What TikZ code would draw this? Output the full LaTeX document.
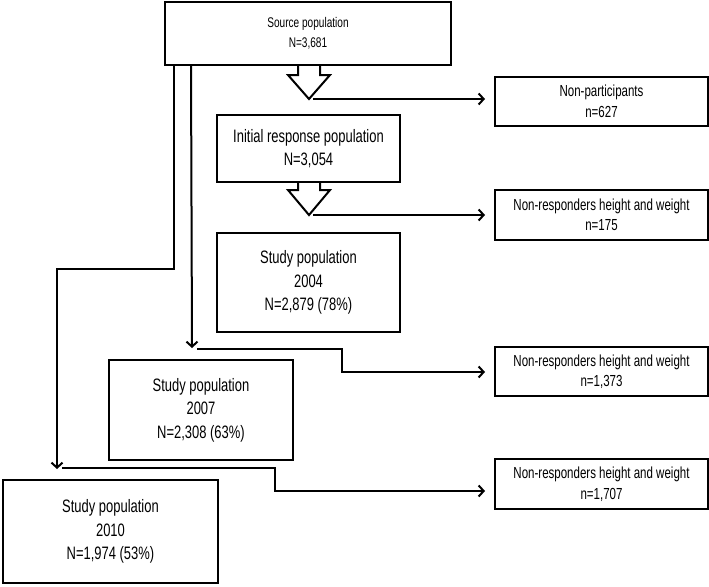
\documentclass[tikz,border=0pt]{standalone}
\usepackage{fontspec}
\setmainfont[FakeStretch=0.72]{Liberation Sans}
\usetikzlibrary{arrows.meta}
\begin{document}
\begin{tikzpicture}[x=1pt,y=-1pt,
  box/.style={draw,line width=2pt,align=center,inner sep=0pt},
  srcbox/.style={box,font=\fontsize{14}{20}\selectfont},
  smallbox/.style={box,font=\fontsize{16}{20.5}\selectfont},
  bigbox/.style={box,font=\fontsize{18}{23.5}\selectfont},
  conn/.style={line width=2pt,-{Straight Barb[length=5pt,width=11pt,line width=2pt]}},
  blockarrow/.style={draw,line width=2pt,line join=miter}]
\useasboundingbox (0,0) rectangle (709,586);
% boxes
\node[srcbox,minimum width=286pt,minimum height=63pt] (src) at (308,33.5) {Source population\\N=3,681};
\node[bigbox,minimum width=183pt,minimum height=67pt] (irp) at (308.5,148.5) {Initial response population\\N=3,054};
\node[bigbox,minimum width=183pt,minimum height=99pt] (s04) at (308.5,282.5) {Study population\\2004\\N=2,879 (78\%)};
\node[bigbox,minimum width=184pt,minimum height=100pt] (s07) at (201,410) {Study population\\2007\\N=2,308 (63\%)};
\node[bigbox,minimum width=215pt,minimum height=103pt] (s10) at (110.5,531.5) {Study population\\2010\\N=1,974 (53\%)};
\node[smallbox,minimum width=213pt,minimum height=49pt] (np) at (601.5,101.5) {Non-participants\\n=627};
\node[smallbox,minimum width=213pt,minimum height=50pt] (nr1) at (601.5,215) {Non-responders height and weight\\n=175};
\node[smallbox,minimum width=213pt,minimum height=49pt] (nr2) at (601.5,371.5) {Non-responders height and weight\\n=1,373};
\node[smallbox,minimum width=213pt,minimum height=50pt] (nr3) at (601.5,484) {Non-responders height and weight\\n=1,707};
% block arrows
\coordinate (t1) at (309,99);
\coordinate (t2) at (309,215);
\draw[blockarrow] (298,65) -- (298,75) -- (288,75) -- (t1) -- (330,75) -- (320,75) -- (320,65);
\draw[blockarrow] (298,182) -- (298,190) -- (288,190) -- (t2) -- (330,190) -- (320,190) -- (320,182);
\draw[conn,shorten >=9pt] ([xshift=4pt]t1) -- (t1 -| np.west);
\draw[conn,shorten >=9pt] ([xshift=4pt]t2) -- (t2 -| nr1.west);
% side branches
\coordinate (b1) at (57,269);
\coordinate (j2) at (192,348);
\coordinate (j3) at (57,469);
\coordinate (k2) at (342,372);
\coordinate (k3) at (275,491);
\draw[conn] ([xshift=10pt]src.south west) |- (b1) -- (j3);
\draw[conn] ([xshift=27pt]src.south west) -- (j2);
\draw[conn,shorten >=9pt] ([xshift=5pt,yshift=-1pt]j2) -| (k2) -- (k2 -| nr2.west);
\draw[conn,shorten >=9pt] ([xshift=5pt,yshift=1pt]j3) -| (k3) -- (k3 -| nr3.west);
\end{tikzpicture}
\end{document}
